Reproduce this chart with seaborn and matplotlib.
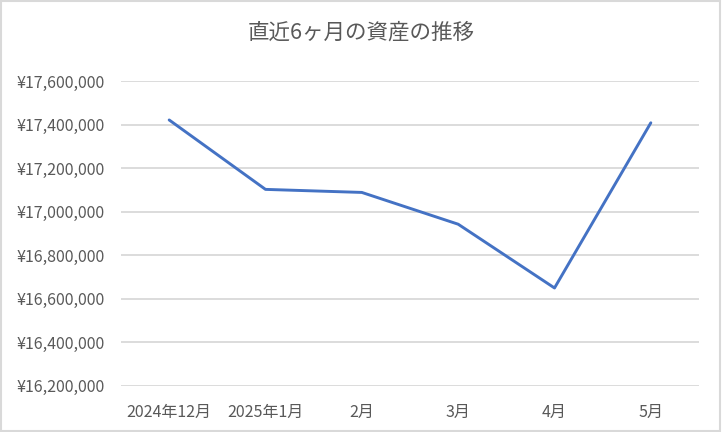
import numpy as np
import pandas as pd
import seaborn as sns
import matplotlib.pyplot as plt
from matplotlib.patches import Rectangle
from matplotlib.ticker import FuncFormatter

# 月ごとの資産
months = ['2024年12月', '2025年1月', '2月', '3月', '4月', '5月']
assets = [17421000, 17102000, 17088000, 16942000, 16649000, 17408000]
y_ticks = [16200000, 16400000, 16600000, 16800000, 17000000, 17200000, 17400000, 17600000]

sns.set_style('white')
plt.rcParams['font.family'] = ['Noto Sans CJK JP', 'DejaVu Sans']

df = pd.DataFrame({'月': months, '資産': assets})
df['pos'] = np.arange(len(months))

fig = plt.figure(figsize=(7.22, 4.32), dpi=100)
ax = fig.add_axes([121 / 722, 1 - 385.7 / 432, (699 - 121) / 722, (385.7 - 81) / 432])

sns.lineplot(data=df, x='pos', y='資産', ax=ax, color='#4472C4', linewidth=2.1)

ax.set_xlim(-0.5, len(months) - 0.5)
ax.set_ylim(y_ticks[0], y_ticks[-1])
ax.set_yticks(y_ticks)
ax.set_xticks(df['pos'])
ax.set_xticklabels(months)
ax.yaxis.set_major_formatter(FuncFormatter(lambda v, p: f'¥{v:,.0f}'))

ax.grid(axis='y', color='#D9D9D9', linewidth=1.3)
ax.grid(axis='x', visible=False)
for s in ax.spines.values():
    s.set_visible(False)
ax.tick_params(axis='both', length=0, labelsize=11.5, labelcolor='#595959')
ax.tick_params(axis='y', pad=12)
ax.tick_params(axis='x', pad=13)
ax.set_xlabel('')
ax.set_ylabel('')

fig.text(0.5, 1 - 33 / 432, '直近6ヶ月の資産の推移', ha='center', va='center',
         fontsize=15.5, color='#595959')

# 外枠
fig.patches.append(Rectangle((0.002, 0.003), 0.995, 0.994, transform=fig.transFigure,
                             fill=False, edgecolor='#D9D9D9', linewidth=1.5))

fig.savefig('out.png', dpi=100)
